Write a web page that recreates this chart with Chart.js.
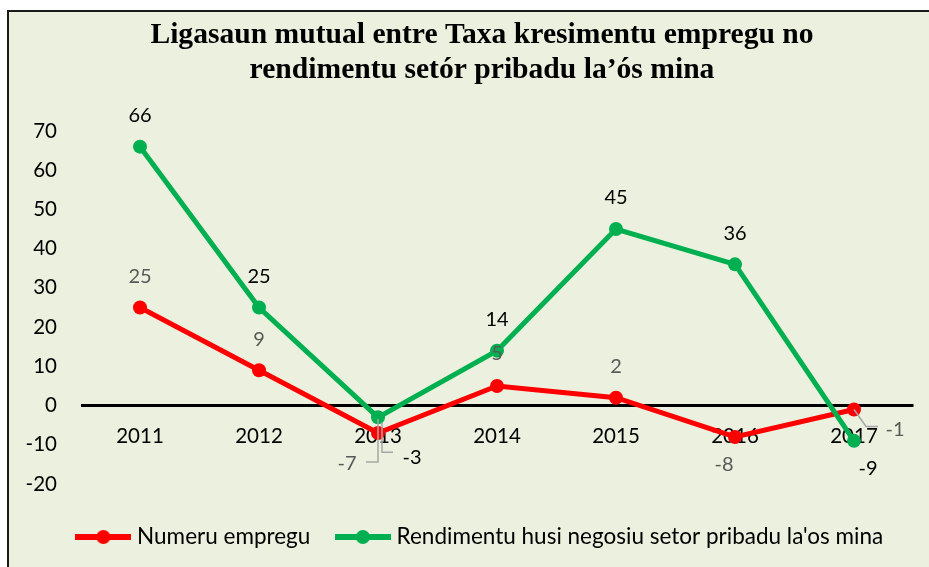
<!DOCTYPE html>
<html>
<head>
<meta charset="utf-8">
<script src="https://cdn.jsdelivr.net/npm/chart.js@4.4.1/dist/chart.umd.min.js"></script>
<style>
    html, body { margin: 0; padding: 0; background: #ffffff; }
    body { width: 929px; height: 567px; overflow: hidden; position: relative; }
    #frame {
        position: absolute; left: 7px; top: 10px; width: 922px; height: 557px;
        background: #ebf1de; border-top: 2px solid #1a1a1a; border-left: 2px solid #1a1a1a;
        box-sizing: border-box; overflow: hidden;
    }
    #chartBox { position: absolute; left: 0; top: 0; width: 920px; height: 555px; }
</style>
</head>
<body>
<div id="frame">
    <div id="chartBox"><canvas id="linkChart"></canvas></div>
</div>
<script>
const years = ["2011", "2012", "2013", "2014", "2015", "2016", "2017"];
const numeruEmpregu = [25, 9, -7, 5, 2, -8, -1];
const rendimentuSetor = [66, 25, -3, 14, 45, 36, -9];
const yTicks = [-20, -10, 0, 10, 20, 30, 40, 50, 60, 70];

const RED = "#ff0000";
const GREEN = "#00b050";

// where each value label sits relative to its point (px), plus optional leader line
const labelPlacement = [
    [
        { dy: -31 }, { dy: -31 },
        { dx: -31, dy: 31, leader: [[0, -14], [0, 29], [-12, 29]] },
        { dy: -32 }, { dy: -31 }, { dx: -11, dy: 28 },
        { dx: 41, dy: 20, leader: [[0, 0], [12, 17], [24, 17]] },
    ],
    [
        { dy: -31 }, { dy: -31 },
        { dx: 34, dy: 40, leader: [[4, 5], [4, 35], [15, 35]] },
        { dy: -31 }, { dy: -31 }, { dy: -31 }, { dx: 14, dy: 28 },
    ],
];
const labelColors = ["#595959", "#000000"];

function legendIcon(color) {
    const c = document.createElement("canvas");
    c.width = 56;
    c.height = 16;
    const g = c.getContext("2d");
    g.strokeStyle = color;
    g.lineWidth = 6;
    g.beginPath();
    g.moveTo(0, 8);
    g.lineTo(56, 8);
    g.stroke();
    g.fillStyle = color;
    g.beginPath();
    g.arc(28, 8, 7, 0, Math.PI * 2);
    g.fill();
    return c;
}
const legendIcons = [legendIcon(RED), legendIcon(GREEN)];

const valueLabels = {
    id: "valueLabels",
    afterDatasetsDraw(chart) {
        const ctx = chart.ctx;
        ctx.save();
        ctx.font = "20px Lato";
        ctx.textAlign = "center";
        ctx.textBaseline = "middle";
        chart.data.datasets.forEach((ds, di) => {
            const meta = chart.getDatasetMeta(di);
            meta.data.forEach((pt, i) => {
                const place = labelPlacement[di][i] || {};
                const dx = place.dx || 0;
                const dy = place.dy || 0;
                if (place.leader) {
                    ctx.strokeStyle = "#a6a6a6";
                    ctx.lineWidth = 1.5;
                    ctx.beginPath();
                    place.leader.forEach(([lx, ly], k) => {
                        if (k === 0) ctx.moveTo(pt.x + lx, pt.y + ly);
                        else ctx.lineTo(pt.x + lx, pt.y + ly);
                    });
                    ctx.stroke();
                }
                ctx.fillStyle = labelColors[di];
                ctx.fillText(String(ds.data[i]), pt.x + dx, pt.y + dy);
            });
        });
        ctx.restore();
    },
};

new Chart(document.getElementById("linkChart"), {
    type: "line",
    data: {
        labels: years,
        datasets: [
            {
                label: "Numeru empregu",
                data: numeruEmpregu,
                borderColor: RED,
                backgroundColor: RED,
                borderWidth: 5,
                pointRadius: 7,
                pointBorderWidth: 0,
                pointBackgroundColor: RED,
                order: 1,
            },
            {
                label: "Rendimentu husi negosiu setor pribadu la'os mina",
                data: rendimentuSetor,
                borderColor: GREEN,
                backgroundColor: GREEN,
                borderWidth: 5,
                pointRadius: 7,
                pointBorderWidth: 0,
                pointBackgroundColor: GREEN,
                order: 0,
            },
        ],
    },
    options: {
        responsive: true,
        maintainAspectRatio: false,
        animation: false,
        layout: {
            padding: { left: 41.5, right: 15.5, top: 0, bottom: 8.75 },
        },
        plugins: {
            tooltip: { enabled: false },
            title: {
                display: true,
                text: ["Ligasaun mutual entre Taxa kresimentu empregu no", "rendimentu setór pribadu la’ós mina"],
                color: "#000",
                font: { family: "'Liberation Serif', 'Times New Roman', serif", size: 29.6, weight: "bold", lineHeight: 1.18 },
                padding: { top: 5.5, bottom: 43.6 },
            },
            legend: {
                position: "bottom",
                title: {
                    display: true,
                    text: "",
                    font: { size: 10, lineHeight: 1 },
                    padding: { top: 1.75, bottom: 0 },
                },
                labels: {
                    usePointStyle: true,
                    pointStyleWidth: 45,
                    padding: 30,
                    color: "#000",
                    font: { family: "Lato", size: 22.5 },
                    generateLabels: (chart) => chart.data.datasets.map((ds, i) => ({
                        text: ds.label,
                        fillStyle: ds.borderColor,
                        strokeStyle: ds.borderColor,
                        lineWidth: 0,
                        pointStyle: legendIcons[i],
                        hidden: false,
                        datasetIndex: i,
                        fontColor: "#000",
                    })),
                },
            },
        },
        scales: {
            x: {
                type: "category",
                position: { y: 0 },
                offset: true,
                z: 1,
                grid: { display: false, drawTicks: false },
                border: { display: false },
                ticks: {
                    color: "#000",
                    padding: 19,
                    font: { family: "Lato", size: 20.5 },
                },
            },
            y: {
                min: -20,
                max: 70,
                afterBuildTicks: (scale) => { scale.ticks = yTicks.map((v) => ({ value: v })); },
                grid: {
                    drawTicks: false,
                    lineWidth: 3,
                    color: (ctx) => (ctx.tick && ctx.tick.value === 0 ? "#000" : "rgba(0,0,0,0)"),
                },
                border: { display: false },
                ticks: {
                    color: "#000",
                    padding: 23.5,
                    font: { family: "Lato", size: 20.5 },
                },
                afterFit: (scale) => {
                    scale.width = 30;
                    // labels hang left of the narrow axis box, so don't clip them
                    scale._computeLabelArea = () => undefined;
                },
            },
        },
    },
    plugins: [valueLabels],
});
</script>
</body>
</html>
